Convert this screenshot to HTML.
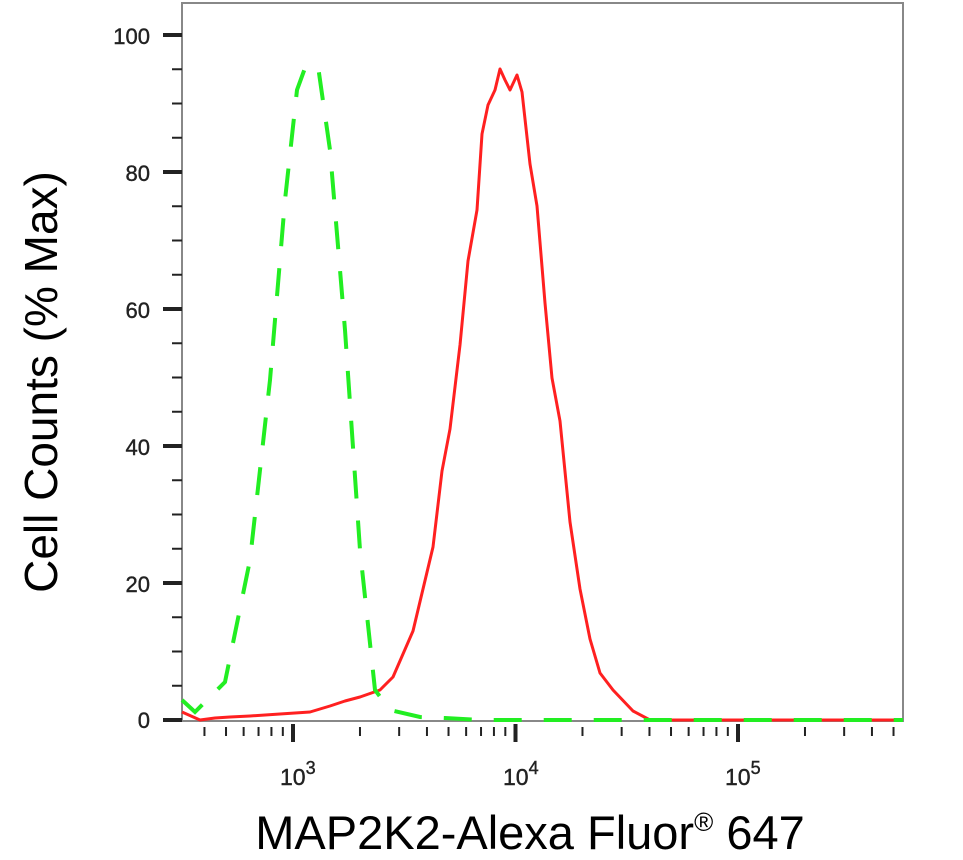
<!DOCTYPE html>
<html><head><meta charset="utf-8"><style>
html,body{margin:0;padding:0;background:#fff;width:963px;height:860px;overflow:hidden}
svg{display:block}
</style></head><body>
<svg id="s" width="963" height="860" xmlns="http://www.w3.org/2000/svg" font-family="Liberation Sans, sans-serif">
<rect x="182" y="3" width="721" height="718" fill="none" stroke="#888" stroke-width="2"/>
<g id="ticks"></g>
<g font-size="22" fill="#222" text-anchor="end" stroke="#222" stroke-width="0.4">
<text x="150" y="44">100</text>
<text x="150" y="181">80</text>
<text x="150" y="318">60</text>
<text x="150" y="455">40</text>
<text x="150" y="592">20</text>
<text x="150" y="728">0</text>
</g>
<g font-size="23" fill="#222" stroke="#222" stroke-width="0.4">
<text x="280" y="785">10<tspan dy="-11" font-size="18">3</tspan></text>
<text x="503" y="785">10<tspan dy="-11" font-size="18">4</tspan></text>
<text x="725" y="785">10<tspan dy="-11" font-size="18">5</tspan></text>
</g>
<polyline fill="none" stroke="#ff2020" stroke-width="3" stroke-linejoin="round" points="182,712 200,720 215,718 230,717 250,716 280,714 310,712 330,706 345,701 360,697 380,690 393,677 413,631 423,589 433,547 442,471 450,429 460,345 468,261 477,210 482,134 488,105 495,90 500,69 505,80 510,90 517,75 522,92 530,164 537,206 545,303 552,378 560,421 570,522 580,589 590,639 600,673 613,690 633,711 650,720 903,720"/>
<polyline fill="none" stroke="#22ee22" stroke-width="4" stroke-dasharray="28,22" points="182,700 195,712 225,682 250,560 270,380 285,200 297,90 305,68 318,66 330,150 345,330 360,550 375,690 390,710 420,717 445,718 480,720 903,720"/>
<text transform="translate(57,382) rotate(-90)" font-size="46" text-anchor="middle" fill="#000">Cell Counts (% Max)</text>
<text x="530" y="849" font-size="47" text-anchor="middle" fill="#000">MAP2K2-Alexa Fluor<tspan font-size="26" dy="-18">®</tspan><tspan dy="18"> 647</tspan></text>
</svg>
<script>
var g=document.getElementById('ticks'),h='';
for(var i=0;i<=20;i++){var y=720-i*(685/20);var maj=i%4==0;
h+='<line x1="'+(maj?163:172)+'" x2="182" y1="'+y+'" y2="'+y+'" stroke="#222" stroke-width="'+(maj?4:2)+'"/>';}
for(var d=2;d<=5;d++){for(var m=1;m<10;m++){var v=d+Math.log10(m);if(v<2.5||v>5.74)continue;var x=293+222.5*(v-3);var maj=m==1;
h+='<line x1="'+x+'" x2="'+x+'" y1="'+(maj?724:727)+'" y2="'+(maj?742:736)+'" stroke="#222" stroke-width="'+(maj?4:2)+'"/>';}}
g.innerHTML=h;
</script>
</body></html>
